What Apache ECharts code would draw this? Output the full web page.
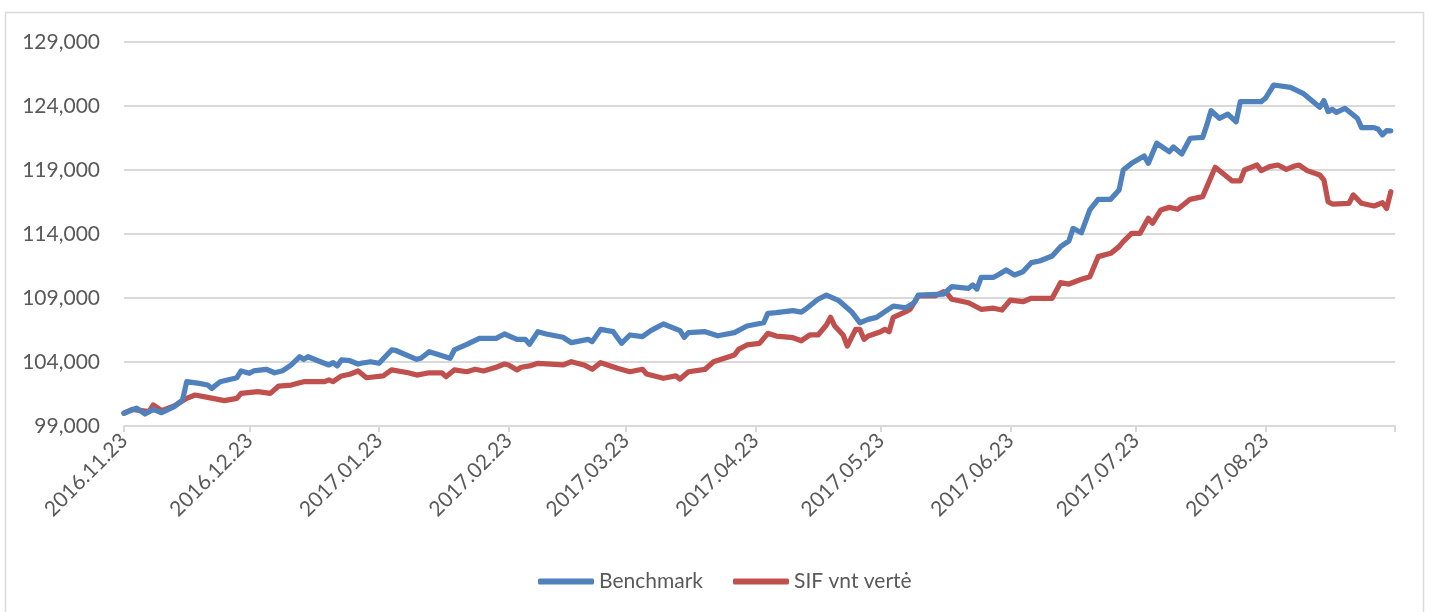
<!DOCTYPE html>
<html>
<head>
<meta charset="utf-8">
<script src="https://cdn.jsdelivr.net/npm/echarts@6/dist/echarts.min.js"></script>
<style>
html,body{margin:0;padding:0;background:#fff;}
#chart{width:1434px;height:612px;}
</style>
</head>
<body>
<div id="chart"></div>
<script>
const tickDates = ['2016-11-23','2016-12-23','2017-01-23','2017-02-23','2017-03-23','2017-04-23','2017-05-23','2017-06-23','2017-07-23','2017-08-23','2017-09-23'];
const yTicks = [99000,104000,109000,114000,119000,124000,129000];

const benchDates = ['2016-11-23','2016-11-26','2016-11-28','2016-11-30','2016-12-02','2016-12-05','2016-12-07','2016-12-08','2016-12-11','2016-12-13','2016-12-14','2016-12-16','2016-12-20','2016-12-21','2016-12-23','2016-12-24','2016-12-27','2016-12-29','2016-12-31',
'2017-01-02','2017-01-04','2017-01-05','2017-01-06','2017-01-09','2017-01-11','2017-01-12','2017-01-13','2017-01-14','2017-01-16','2017-01-18','2017-01-19','2017-01-21','2017-01-23','2017-01-26','2017-01-27',
'2017-02-01','2017-02-02','2017-02-04','2017-02-09','2017-02-10','2017-02-13','2017-02-16','2017-02-20','2017-02-22','2017-02-25','2017-02-27','2017-02-28',
'2017-03-02','2017-03-04','2017-03-08','2017-03-10','2017-03-14','2017-03-15','2017-03-17','2017-03-20','2017-03-22','2017-03-24','2017-03-27','2017-03-29',
'2017-04-01','2017-04-05','2017-04-06','2017-04-07','2017-04-11','2017-04-14','2017-04-18','2017-04-21','2017-04-25','2017-04-26','2017-04-28',
'2017-05-02','2017-05-04','2017-05-05','2017-05-08','2017-05-10','2017-05-13','2017-05-16','2017-05-18','2017-05-20','2017-05-22','2017-05-24','2017-05-26','2017-05-29','2017-05-31',
'2017-06-01','2017-06-07','2017-06-09','2017-06-13','2017-06-14','2017-06-15','2017-06-16','2017-06-19','2017-06-20','2017-06-22','2017-06-24','2017-06-26','2017-06-28','2017-06-30',
'2017-07-03','2017-07-05','2017-07-07','2017-07-08','2017-07-10','2017-07-12','2017-07-14','2017-07-17','2017-07-19','2017-07-20','2017-07-22','2017-07-25','2017-07-26','2017-07-28','2017-07-31',
'2017-08-01','2017-08-03','2017-08-05','2017-08-08','2017-08-09','2017-08-10','2017-08-12','2017-08-14','2017-08-16','2017-08-17','2017-08-22','2017-08-23','2017-08-25','2017-08-29',
'2017-09-01','2017-09-05','2017-09-06','2017-09-07','2017-09-08','2017-09-09','2017-09-11','2017-09-14','2017-09-15','2017-09-18','2017-09-19','2017-09-20','2017-09-21','2017-09-22'];
const benchValues = [100000,100400,99940,100300,100040,100510,101030,102460,102330,102200,101940,102460,102770,103300,103120,103300,103430,103160,103320,
103770,104410,104210,104410,104020,103770,103950,103690,104160,104100,103840,103920,104020,103900,104940,104900,
104210,104290,104800,104290,104940,105380,105850,105850,106190,105770,105770,105380,
106370,106190,105930,105510,105770,105590,106550,106370,105460,106110,105980,106450,
106970,106450,105930,106290,106370,106050,106290,106810,107070,107800,107850,
108010,107900,108120,108900,109230,108790,107930,107070,107330,107490,107930,108370,108240,108630,
109230,109310,109880,109760,110020,109700,110620,110620,110800,111190,110800,111050,111760,111890,
112280,113010,113450,114440,114100,115880,116710,116710,117440,119000,119520,120090,119520,121090,120430,
120800,120250,121480,121550,122520,123630,123040,123370,122770,124340,124340,124600,125640,125460,
124990,123900,124420,123560,123740,123510,123820,123040,122310,122310,122180,121750,122070,122050];

const sifDates = ['2016-11-23','2016-11-25','2016-11-29','2016-11-30','2016-12-02','2016-12-05','2016-12-08','2016-12-10','2016-12-13','2016-12-17','2016-12-20','2016-12-21','2016-12-25','2016-12-28','2016-12-30',
'2017-01-02','2017-01-04','2017-01-05','2017-01-10','2017-01-11','2017-01-12','2017-01-14','2017-01-16','2017-01-18','2017-01-20','2017-01-24','2017-01-26','2017-01-30',
'2017-02-01','2017-02-04','2017-02-07','2017-02-08','2017-02-10','2017-02-13','2017-02-15','2017-02-17','2017-02-20','2017-02-22','2017-02-23','2017-02-25','2017-02-26','2017-02-28',
'2017-03-02','2017-03-08','2017-03-10','2017-03-13','2017-03-15','2017-03-17','2017-03-21','2017-03-24','2017-03-27','2017-03-28',
'2017-04-01','2017-04-04','2017-04-05','2017-04-07','2017-04-11','2017-04-13','2017-04-18','2017-04-19','2017-04-21','2017-04-24','2017-04-26','2017-04-28',
'2017-05-02','2017-05-04','2017-05-06','2017-05-08','2017-05-10','2017-05-11','2017-05-12','2017-05-14','2017-05-15','2017-05-17','2017-05-18','2017-05-19','2017-05-20','2017-05-23','2017-05-24','2017-05-25','2017-05-26','2017-05-29','2017-05-30',
'2017-06-01','2017-06-05','2017-06-07','2017-06-08','2017-06-09','2017-06-13','2017-06-16','2017-06-19','2017-06-21','2017-06-23','2017-06-26','2017-06-28','2017-06-30',
'2017-07-03','2017-07-05','2017-07-07','2017-07-10','2017-07-12','2017-07-14','2017-07-17','2017-07-19','2017-07-20','2017-07-22','2017-07-24','2017-07-26','2017-07-27','2017-07-29','2017-07-31',
'2017-08-02','2017-08-03','2017-08-05','2017-08-08','2017-08-11','2017-08-15','2017-08-17','2017-08-18','2017-08-21','2017-08-22','2017-08-24','2017-08-26','2017-08-28','2017-08-30','2017-08-31',
'2017-09-02','2017-09-05','2017-09-06','2017-09-07','2017-09-08','2017-09-12','2017-09-13','2017-09-15','2017-09-18','2017-09-20','2017-09-21','2017-09-22'];
const sifValues = [100000,100300,100120,100640,100200,100560,101160,101420,101240,100980,101160,101550,101680,101550,102120,
102200,102380,102460,102460,102600,102460,102910,103040,103300,102770,102910,103380,103160,
102980,103160,103160,102850,103380,103240,103430,103300,103590,103840,103770,103380,103590,103690,
103900,103770,104020,103770,103430,103950,103510,103240,103430,103060,
102730,102910,102670,103240,103430,104020,104550,104990,105330,105460,106240,106030,
105900,105660,106110,106110,106890,107490,106810,106110,105250,106550,106550,105770,106030,106370,106550,106370,107490,107930,108120,
109160,109160,109490,109310,108900,108630,108120,108200,108060,108840,108710,108980,108980,
108980,110200,110090,110460,110660,112230,112490,113010,113400,114050,114050,115230,114840,115880,116080,
115930,116190,116710,116920,119210,118160,118160,119000,119390,118950,119260,119390,119050,119310,119390,
118950,118610,118220,116520,116340,116400,117050,116400,116190,116440,116000,117300];

function ts(s){ const p = s.split('-').map(Number); return Date.UTC(p[0], p[1]-1, p[2]); }
function fmtDate(v){ const d = new Date(v); const mm = String(d.getUTCMonth()+1).padStart(2,'0'); const dd = String(d.getUTCDate()).padStart(2,'0'); return d.getUTCFullYear()+'.'+mm+'.'+dd; }
function fmtNum(v){ return String(Math.round(v)).replace(/\B(?=(\d{3})+(?!\d))/g, ','); }

const tickTs = tickDates.map(ts);
const benchData = benchDates.map((d,i)=>[ts(d), benchValues[i]]);
const sifData = sifDates.map((d,i)=>[ts(d), sifValues[i]]);

const FONT = 'Lato';
const TXT = '#595959';
const GRID = '#D9D9D9';

const chart = echarts.init(document.getElementById('chart'), null, {renderer:'canvas'});
chart.setOption({
  animation: false,
  backgroundColor: '#fff',
  graphic: [{
    type: 'rect', silent: true, z: -10,
    shape: {x: 5.5, y: 12.5, width: 1418, height: 640},
    style: {fill: 'none', stroke: GRID, lineWidth: 1.5}
  }],
  grid: {left: 124, right: 39, top: 42, bottom: 186, containLabel: false},
  legend: {
    left: 533, top: 566,
    itemWidth: 56, itemHeight: 6, itemGap: 30,
    icon: 'roundRect',
    textStyle: {color: TXT, fontSize: 21, fontFamily: FONT},
    data: ['Benchmark', 'SIF vnt vertė']
  },
  xAxis: {
    type: 'value',
    min: tickTs[0], max: tickTs[tickTs.length-1],
    axisLine: {show: true, lineStyle: {color: GRID, width: 2}},
    axisTick: {show: true, length: 6, lineStyle: {color: GRID, width: 2}, customValues: tickTs},
    axisLabel: {
      customValues: tickTs.slice(0, -1),
      rotate: 45, margin: 11,
      color: TXT, fontSize: 21, fontFamily: FONT,
      formatter: (v) => fmtDate(v)
    },
    splitLine: {show: false}
  },
  yAxis: {
    type: 'value',
    min: yTicks[0], max: yTicks[yTicks.length-1], interval: yTicks[1]-yTicks[0],
    axisLine: {show: false}, axisTick: {show: false},
    axisLabel: {color: TXT, fontSize: 21, fontFamily: FONT, margin: 24, formatter: (v)=>fmtNum(v)},
    splitLine: {show: true, lineStyle: {color: GRID, width: 2}}
  },
  series: [
    {name: 'Benchmark', type: 'line', data: benchData, showSymbol: false, symbol: 'none',
     itemStyle: {color: '#4F81BD'}, lineStyle: {color: '#4F81BD', width: 5.25, join: 'round', cap: 'round'}, z: 3},
    {name: 'SIF vnt vertė', type: 'line', data: sifData, showSymbol: false, symbol: 'none',
     itemStyle: {color: '#C0504D'}, lineStyle: {color: '#C0504D', width: 5.25, join: 'round', cap: 'round'}, z: 2}
  ]
});
</script>
</body>
</html>
